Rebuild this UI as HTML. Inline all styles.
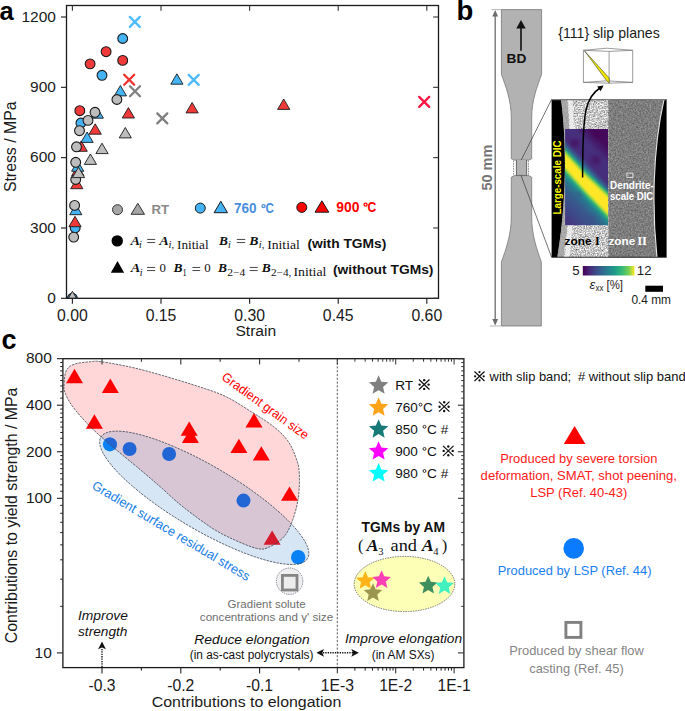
<!DOCTYPE html><html><head><meta charset="utf-8"><style>html,body{margin:0;padding:0;background:#fff;}svg{display:block;}</style></head><body><svg width="685" height="711" viewBox="0 0 685 711"><rect width="685" height="711" fill="#fff"/><text x="-0.60" y="19.80" font-family='"Liberation Sans", sans-serif' font-size="25.5" fill="#000" font-weight="bold">a</text>
<clipPath id="clipA"><rect x="66.5" y="5.5" width="372.0" height="292.8"/></clipPath>
<g clip-path="url(#clipA)">
<polygon points="77.80,165.30 83.90,175.70 71.70,175.70" fill="#f03a3a" stroke="#1a1a1a" stroke-width="0.9" stroke-linejoin="miter"/>
<polygon points="81.20,140.90 87.30,151.30 75.10,151.30" fill="#f03a3a" stroke="#1a1a1a" stroke-width="0.9" stroke-linejoin="miter"/>
<polygon points="76.80,178.30 82.90,188.70 70.70,188.70" fill="#f03a3a" stroke="#1a1a1a" stroke-width="0.9" stroke-linejoin="miter"/>
<polygon points="95.20,123.80 101.30,134.20 89.10,134.20" fill="#f03a3a" stroke="#1a1a1a" stroke-width="0.9" stroke-linejoin="miter"/>
<polygon points="128.40,107.60 134.50,118.00 122.30,118.00" fill="#f03a3a" stroke="#1a1a1a" stroke-width="0.9" stroke-linejoin="miter"/>
<polygon points="192.10,102.50 198.20,112.90 186.00,112.90" fill="#f03a3a" stroke="#1a1a1a" stroke-width="0.9" stroke-linejoin="miter"/>
<polygon points="283.70,99.00 289.80,109.40 277.60,109.40" fill="#f03a3a" stroke="#1a1a1a" stroke-width="0.9" stroke-linejoin="miter"/>
<circle cx="106.10" cy="51.70" r="4.9" fill="#f03a3a" stroke="#1a1a1a" stroke-width="1.1"/>
<circle cx="90.10" cy="63.90" r="4.9" fill="#f03a3a" stroke="#1a1a1a" stroke-width="1.1"/>
<circle cx="122.70" cy="60.40" r="4.9" fill="#f03a3a" stroke="#1a1a1a" stroke-width="1.1"/>
<circle cx="79.80" cy="110.70" r="4.9" fill="#f03a3a" stroke="#1a1a1a" stroke-width="1.1"/>
<polygon points="120.40,85.50 126.50,95.90 114.30,95.90" fill="#45b4f5" stroke="#1a1a1a" stroke-width="0.9" stroke-linejoin="miter"/>
<polygon points="176.90,73.80 183.00,84.20 170.80,84.20" fill="#45b4f5" stroke="#1a1a1a" stroke-width="0.9" stroke-linejoin="miter"/>
<polygon points="97.30,107.80 103.40,118.20 91.20,118.20" fill="#45b4f5" stroke="#1a1a1a" stroke-width="0.9" stroke-linejoin="miter"/>
<polygon points="87.10,132.00 93.20,142.40 81.00,142.40" fill="#45b4f5" stroke="#1a1a1a" stroke-width="0.9" stroke-linejoin="miter"/>
<polygon points="77.70,160.90 83.80,171.30 71.60,171.30" fill="#45b4f5" stroke="#1a1a1a" stroke-width="0.9" stroke-linejoin="miter"/>
<polygon points="75.80,204.30 81.90,214.70 69.70,214.70" fill="#45b4f5" stroke="#1a1a1a" stroke-width="0.9" stroke-linejoin="miter"/>
<circle cx="122.70" cy="38.50" r="4.9" fill="#45b4f5" stroke="#1a1a1a" stroke-width="1.1"/>
<circle cx="102.00" cy="75.30" r="4.9" fill="#45b4f5" stroke="#1a1a1a" stroke-width="1.1"/>
<circle cx="80.90" cy="123.00" r="4.9" fill="#45b4f5" stroke="#1a1a1a" stroke-width="1.1"/>
<circle cx="75.20" cy="227.90" r="4.9" fill="#45b4f5" stroke="#1a1a1a" stroke-width="1.1"/>
<circle cx="72.40" cy="298.30" r="4.9" fill="#45b4f5" stroke="#1a1a1a" stroke-width="1.1"/>
<polygon points="75.00,216.30 81.10,226.70 68.90,226.70" fill="#f03a3a" stroke="#1a1a1a" stroke-width="0.9" stroke-linejoin="miter"/>
<circle cx="116.90" cy="99.50" r="4.9" fill="#bdbdbd" stroke="#1a1a1a" stroke-width="1.1"/>
<circle cx="95.00" cy="112.30" r="4.9" fill="#bdbdbd" stroke="#1a1a1a" stroke-width="1.1"/>
<circle cx="88.00" cy="120.40" r="4.9" fill="#bdbdbd" stroke="#1a1a1a" stroke-width="1.1"/>
<circle cx="79.50" cy="130.70" r="4.9" fill="#bdbdbd" stroke="#1a1a1a" stroke-width="1.1"/>
<circle cx="76.50" cy="146.80" r="4.9" fill="#bdbdbd" stroke="#1a1a1a" stroke-width="1.1"/>
<circle cx="75.70" cy="162.30" r="4.9" fill="#bdbdbd" stroke="#1a1a1a" stroke-width="1.1"/>
<circle cx="75.70" cy="179.50" r="4.9" fill="#bdbdbd" stroke="#1a1a1a" stroke-width="1.1"/>
<circle cx="74.60" cy="205.40" r="4.9" fill="#bdbdbd" stroke="#1a1a1a" stroke-width="1.1"/>
<circle cx="73.70" cy="237.10" r="4.9" fill="#bdbdbd" stroke="#1a1a1a" stroke-width="1.1"/>
<polygon points="125.30,127.50 131.40,137.90 119.20,137.90" fill="#bdbdbd" stroke="#1a1a1a" stroke-width="0.9" stroke-linejoin="miter"/>
<polygon points="102.00,143.20 108.10,153.60 95.90,153.60" fill="#bdbdbd" stroke="#1a1a1a" stroke-width="0.9" stroke-linejoin="miter"/>
<polygon points="90.40,154.00 96.50,164.40 84.30,164.40" fill="#bdbdbd" stroke="#1a1a1a" stroke-width="0.9" stroke-linejoin="miter"/>
<polygon points="78.50,167.20 84.60,177.60 72.40,177.60" fill="#bdbdbd" stroke="#1a1a1a" stroke-width="0.9" stroke-linejoin="miter"/>
<polygon points="72.40,291.30 78.50,301.70 66.30,301.70" fill="#bdbdbd" stroke="#1a1a1a" stroke-width="0.9" stroke-linejoin="miter"/>
</g>
<path d="M129.80,16.90L139.80,26.90M139.80,16.90L129.80,26.90" stroke="#4dbbff" stroke-width="2.3" stroke-linecap="round" fill="none"/>
<path d="M188.70,74.90L198.70,84.90M198.70,74.90L188.70,84.90" stroke="#4dbbff" stroke-width="2.3" stroke-linecap="round" fill="none"/>
<path d="M124.20,74.70L134.20,84.70M134.20,74.70L124.20,84.70" stroke="#ee3030" stroke-width="2.3" stroke-linecap="round" fill="none"/>
<path d="M419.20,96.90L429.20,106.90M429.20,96.90L419.20,106.90" stroke="#ff1744" stroke-width="2.3" stroke-linecap="round" fill="none"/>
<path d="M130.00,86.30L140.00,96.30M140.00,86.30L130.00,96.30" stroke="#7f7f7f" stroke-width="2.3" stroke-linecap="round" fill="none"/>
<path d="M157.30,113.40L167.30,123.40M167.30,113.40L157.30,123.40" stroke="#7f7f7f" stroke-width="2.3" stroke-linecap="round" fill="none"/>
<rect x="66.5" y="5.5" width="372.0" height="292.8" fill="none" stroke="#1a1a1a" stroke-width="1.3"/>
<line x1="72.40" y1="298.30" x2="72.40" y2="303.80" stroke="#222" stroke-width="1.15"/>
<line x1="72.40" y1="5.50" x2="72.40" y2="10.70" stroke="#333" stroke-width="1.1"/>
<text x="72.40" y="320.60" font-family='"Liberation Sans", sans-serif' font-size="15.8" fill="#1a1a1a" text-anchor="middle">0.00</text>
<line x1="161.00" y1="298.30" x2="161.00" y2="303.80" stroke="#222" stroke-width="1.15"/>
<line x1="161.00" y1="5.50" x2="161.00" y2="10.70" stroke="#333" stroke-width="1.1"/>
<text x="161.00" y="320.60" font-family='"Liberation Sans", sans-serif' font-size="15.8" fill="#1a1a1a" text-anchor="middle">0.15</text>
<line x1="249.61" y1="298.30" x2="249.61" y2="303.80" stroke="#222" stroke-width="1.15"/>
<line x1="249.61" y1="5.50" x2="249.61" y2="10.70" stroke="#333" stroke-width="1.1"/>
<text x="249.61" y="320.60" font-family='"Liberation Sans", sans-serif' font-size="15.8" fill="#1a1a1a" text-anchor="middle">0.30</text>
<line x1="338.22" y1="298.30" x2="338.22" y2="303.80" stroke="#222" stroke-width="1.15"/>
<line x1="338.22" y1="5.50" x2="338.22" y2="10.70" stroke="#333" stroke-width="1.1"/>
<text x="338.22" y="320.60" font-family='"Liberation Sans", sans-serif' font-size="15.8" fill="#1a1a1a" text-anchor="middle">0.45</text>
<line x1="426.82" y1="298.30" x2="426.82" y2="303.80" stroke="#222" stroke-width="1.15"/>
<line x1="426.82" y1="5.50" x2="426.82" y2="10.70" stroke="#333" stroke-width="1.1"/>
<text x="426.82" y="320.60" font-family='"Liberation Sans", sans-serif' font-size="15.8" fill="#1a1a1a" text-anchor="middle">0.60</text>
<line x1="61.00" y1="298.30" x2="66.50" y2="298.30" stroke="#222" stroke-width="1.15"/>
<line x1="433.20" y1="298.30" x2="438.50" y2="298.30" stroke="#333" stroke-width="1.1"/>
<text x="55.90" y="303.10" font-family='"Liberation Sans", sans-serif' font-size="15.5" fill="#1a1a1a" text-anchor="end">0</text>
<line x1="61.00" y1="227.98" x2="66.50" y2="227.98" stroke="#222" stroke-width="1.15"/>
<line x1="433.20" y1="227.98" x2="438.50" y2="227.98" stroke="#333" stroke-width="1.1"/>
<text x="55.90" y="232.78" font-family='"Liberation Sans", sans-serif' font-size="15.5" fill="#1a1a1a" text-anchor="end">300</text>
<line x1="61.00" y1="157.65" x2="66.50" y2="157.65" stroke="#222" stroke-width="1.15"/>
<line x1="433.20" y1="157.65" x2="438.50" y2="157.65" stroke="#333" stroke-width="1.1"/>
<text x="55.90" y="162.45" font-family='"Liberation Sans", sans-serif' font-size="15.5" fill="#1a1a1a" text-anchor="end">600</text>
<line x1="61.00" y1="87.33" x2="66.50" y2="87.33" stroke="#222" stroke-width="1.15"/>
<line x1="433.20" y1="87.33" x2="438.50" y2="87.33" stroke="#333" stroke-width="1.1"/>
<text x="55.90" y="92.13" font-family='"Liberation Sans", sans-serif' font-size="15.5" fill="#1a1a1a" text-anchor="end">900</text>
<line x1="61.00" y1="17.00" x2="66.50" y2="17.00" stroke="#222" stroke-width="1.15"/>
<line x1="433.20" y1="17.00" x2="438.50" y2="17.00" stroke="#333" stroke-width="1.1"/>
<text x="55.90" y="21.80" font-family='"Liberation Sans", sans-serif' font-size="15.5" fill="#1a1a1a" text-anchor="end">1200</text>
<text x="255.80" y="336.20" font-family='"Liberation Sans", sans-serif' font-size="15.4" fill="#1a1a1a" text-anchor="middle" textLength="40.80" lengthAdjust="spacingAndGlyphs">Strain</text>
<text x="16.50" y="146.80" font-family='"Liberation Sans", sans-serif' font-size="16.0" fill="#1a1a1a" text-anchor="middle" textLength="90.60" lengthAdjust="spacingAndGlyphs" transform="rotate(-90 16.50 146.80)">Stress / MPa</text>
<circle cx="117.50" cy="209.70" r="5.0" fill="#a6a6a6" stroke="#333" stroke-width="1.0"/>
<polygon points="137.80,203.30 144.50,214.30 131.10,214.30" fill="#a6a6a6" stroke="#333" stroke-width="1.0" stroke-linejoin="miter"/>
<text x="151.60" y="214.40" font-family='"Liberation Sans", sans-serif' font-size="13.2" fill="#8a8a8a" font-weight="bold">RT</text>
<circle cx="200.30" cy="208.10" r="5.0" fill="#45b4f5" stroke="#1a1a1a" stroke-width="1.0"/>
<polygon points="220.80,201.30 227.50,212.70 214.10,212.70" fill="#45b4f5" stroke="#1a1a1a" stroke-width="1.0" stroke-linejoin="miter"/>
<text x="233.90" y="213.10" font-family='"Liberation Sans", sans-serif' font-size="13.8" fill="#4a8fdc" font-weight="bold" textLength="22.60" lengthAdjust="spacingAndGlyphs">760</text>
<circle cx="263.55" cy="206.1" r="1.55" fill="none" stroke="#4a8fdc" stroke-width="1.3"/>
<text x="265.60" y="213.10" font-family='"Liberation Sans", sans-serif' font-size="13.8" fill="#4a8fdc" font-weight="bold" textLength="8.40" lengthAdjust="spacingAndGlyphs">C</text>
<circle cx="301.80" cy="207.40" r="5.0" fill="#ff0000" stroke="#1a1a1a" stroke-width="1.0"/>
<polygon points="321.90,200.80 328.80,212.20 315.00,212.20" fill="#ff0000" stroke="#1a1a1a" stroke-width="1.0" stroke-linejoin="miter"/>
<text x="336.20" y="212.10" font-family='"Liberation Sans", sans-serif' font-size="13.8" fill="#ff0000" font-weight="bold" textLength="23.20" lengthAdjust="spacingAndGlyphs">900</text>
<circle cx="365.55" cy="204.6" r="1.55" fill="none" stroke="#ff0000" stroke-width="1.3"/>
<text x="367.60" y="212.10" font-family='"Liberation Sans", sans-serif' font-size="13.8" fill="#ff0000" font-weight="bold" textLength="8.80" lengthAdjust="spacingAndGlyphs">C</text>
<circle cx="117.25" cy="240.90" r="5.7" fill="#000" stroke="none" stroke-width="1"/>
<polygon points="117.50,261.10 124.15,272.80 110.85,272.80" fill="#000" stroke="none" stroke-width="1" stroke-linejoin="miter"/>
<text x="130.50" y="244.50" font-family='"Liberation Serif", serif' font-size="11.6" fill="#111" font-weight="bold" font-style="italic" textLength="9.60" lengthAdjust="spacingAndGlyphs">A</text>
<text x="139.00" y="247.90" font-family='"Liberation Serif", serif' font-size="10" fill="#111" font-style="italic">i</text>
<line x1="147.20" y1="239.45" x2="155.20" y2="239.45" stroke="#1a1a1a" stroke-width="0.8"/>
<line x1="147.20" y1="242.55" x2="155.20" y2="242.55" stroke="#1a1a1a" stroke-width="0.8"/>
<text x="159.30" y="244.50" font-family='"Liberation Serif", serif' font-size="11.6" fill="#111" font-weight="bold" font-style="italic" textLength="9.60" lengthAdjust="spacingAndGlyphs">A</text>
<text x="168.60" y="248.30" font-family='"Liberation Serif", serif' font-size="10" fill="#111" font-style="italic" textLength="5.60" lengthAdjust="spacingAndGlyphs">i,</text>
<text x="177.00" y="248.90" font-family='"Liberation Serif", serif' font-size="13" fill="#111" textLength="31.60" lengthAdjust="spacingAndGlyphs">Initial</text>
<text x="218.90" y="244.50" font-family='"Liberation Serif", serif' font-size="11.6" fill="#111" font-weight="bold" font-style="italic" textLength="8.90" lengthAdjust="spacingAndGlyphs">B</text>
<text x="228.00" y="247.90" font-family='"Liberation Serif", serif' font-size="10" fill="#111" font-style="italic">i</text>
<line x1="236.80" y1="239.45" x2="245.20" y2="239.45" stroke="#1a1a1a" stroke-width="0.8"/>
<line x1="236.80" y1="242.55" x2="245.20" y2="242.55" stroke="#1a1a1a" stroke-width="0.8"/>
<text x="249.20" y="244.50" font-family='"Liberation Serif", serif' font-size="11.6" fill="#111" font-weight="bold" font-style="italic" textLength="9.20" lengthAdjust="spacingAndGlyphs">B</text>
<text x="258.80" y="248.30" font-family='"Liberation Serif", serif' font-size="10" fill="#111" font-style="italic" textLength="5.60" lengthAdjust="spacingAndGlyphs">i,</text>
<text x="267.20" y="248.90" font-family='"Liberation Serif", serif' font-size="13" fill="#111" textLength="32.60" lengthAdjust="spacingAndGlyphs">Initial</text>
<text x="307.40" y="248.10" font-family='"Liberation Sans", sans-serif' font-size="13.2" fill="#111" font-weight="bold" textLength="79.00" lengthAdjust="spacingAndGlyphs">(with TGMs)</text>
<text x="130.70" y="272.30" font-family='"Liberation Serif", serif' font-size="11.6" fill="#111" font-weight="bold" font-style="italic" textLength="9.60" lengthAdjust="spacingAndGlyphs">A</text>
<text x="139.80" y="275.60" font-family='"Liberation Serif", serif' font-size="10" fill="#111" font-style="italic">i</text>
<line x1="147.00" y1="267.45" x2="155.20" y2="267.45" stroke="#1a1a1a" stroke-width="0.8"/>
<line x1="147.00" y1="270.55" x2="155.20" y2="270.55" stroke="#1a1a1a" stroke-width="0.8"/>
<text x="159.60" y="272.30" font-family='"Liberation Serif", serif' font-size="13.5" fill="#111" textLength="6.40" lengthAdjust="spacingAndGlyphs">0</text>
<text x="173.60" y="272.30" font-family='"Liberation Serif", serif' font-size="11.6" fill="#111" font-weight="bold" font-style="italic" textLength="9.00" lengthAdjust="spacingAndGlyphs">B</text>
<text x="182.60" y="275.80" font-family='"Liberation Serif", serif' font-size="9.8" fill="#111" textLength="4.20" lengthAdjust="spacingAndGlyphs">1</text>
<line x1="192.40" y1="267.45" x2="200.20" y2="267.45" stroke="#1a1a1a" stroke-width="0.8"/>
<line x1="192.40" y1="270.55" x2="200.20" y2="270.55" stroke="#1a1a1a" stroke-width="0.8"/>
<text x="204.20" y="272.30" font-family='"Liberation Serif", serif' font-size="13.5" fill="#111" textLength="6.40" lengthAdjust="spacingAndGlyphs">0</text>
<text x="218.00" y="272.30" font-family='"Liberation Serif", serif' font-size="11.6" fill="#111" font-weight="bold" font-style="italic" textLength="9.00" lengthAdjust="spacingAndGlyphs">B</text>
<text x="227.20" y="275.80" font-family='"Liberation Serif", serif' font-size="9.6" fill="#111" textLength="18.00" lengthAdjust="spacingAndGlyphs">2−4</text>
<line x1="249.70" y1="267.45" x2="257.70" y2="267.45" stroke="#1a1a1a" stroke-width="0.8"/>
<line x1="249.70" y1="270.55" x2="257.70" y2="270.55" stroke="#1a1a1a" stroke-width="0.8"/>
<text x="261.80" y="272.30" font-family='"Liberation Serif", serif' font-size="11.6" fill="#111" font-weight="bold" font-style="italic" textLength="9.00" lengthAdjust="spacingAndGlyphs">B</text>
<text x="271.00" y="275.80" font-family='"Liberation Serif", serif' font-size="9.6" fill="#111" textLength="20.40" lengthAdjust="spacingAndGlyphs">2−4,</text>
<text x="293.40" y="276.40" font-family='"Liberation Serif", serif' font-size="12.4" fill="#111" textLength="33.00" lengthAdjust="spacingAndGlyphs">Initial</text>
<text x="333.00" y="274.10" font-family='"Liberation Sans", sans-serif' font-size="13.2" fill="#111" font-weight="bold" textLength="100.40" lengthAdjust="spacingAndGlyphs">(without TGMs)</text>
<text x="456.60" y="20.10" font-family='"Liberation Sans", sans-serif' font-size="27.5" fill="#000" font-weight="bold">b</text>
<path d="M501.4,9.6 L541.6,9.6 L541.6,74.3 C537.5,86 531.6,100 531.7,118 L531.7,158.8 L528.8,160.1 L514.3,160.1 L511.3,158.8 L511.3,118 C511.3,100 505.5,86 501.4,74.3 Z" fill="#b2b2b2" stroke="#777" stroke-width="0.8"/>
<path d="M501.4,326 L541.3,326 L541.3,262.1 C537.2,250 531.6,235 531.7,217 L531.7,177.2 L528.8,175.6 L514.3,175.6 L511.3,177.2 L511.3,217 C511.3,235 505.6,250 501.4,262.1 Z" fill="#b2b2b2" stroke="#777" stroke-width="0.8"/>
<rect x="516.4" y="160.1" width="10.2" height="15.4" fill="#b2b2b2"/>
<line x1="516.40" y1="160.10" x2="516.40" y2="175.50" stroke="#4a4a4a" stroke-width="0.8"/>
<line x1="526.60" y1="160.10" x2="526.60" y2="175.50" stroke="#4a4a4a" stroke-width="0.8"/>
<line x1="516.40" y1="175.40" x2="526.60" y2="175.40" stroke="#4a4a4a" stroke-width="0.6"/>
<line x1="513.60" y1="160.60" x2="513.60" y2="175.00" stroke="#555" stroke-width="0.7" stroke-dasharray="1.6,0.9"/>
<line x1="528.40" y1="160.60" x2="528.40" y2="175.00" stroke="#555" stroke-width="0.7" stroke-dasharray="1.6,0.9"/>
<line x1="491.50" y1="9.60" x2="501.40" y2="9.60" stroke="#999" stroke-width="0.7"/>
<line x1="489.80" y1="326.00" x2="501.40" y2="326.00" stroke="#999" stroke-width="0.7"/>
<line x1="495.20" y1="13.50" x2="495.20" y2="322.00" stroke="#6c6c6c" stroke-width="1.3"/>
<path d="M495.2,9.9 L492.3,16.6 L498.1,16.6 Z" fill="#6c6c6c"/>
<path d="M495.2,325.6 L492.3,318.9 L498.1,318.9 Z" fill="#6c6c6c"/>
<text x="492.00" y="167.60" font-family='"Liberation Sans", sans-serif' font-size="13.8" fill="#767676" text-anchor="middle" font-weight="bold" textLength="45.60" lengthAdjust="spacingAndGlyphs" transform="rotate(-90 492.00 167.60)">50 mm</text>
<line x1="521.00" y1="26.00" x2="521.00" y2="50.80" stroke="#111" stroke-width="1.6"/>
<path d="M521.0,20.0 L516.3,28.6 L525.7,28.6 Z" fill="#111"/>
<text x="506.60" y="63.40" font-family='"Liberation Sans", sans-serif' font-size="13.2" fill="#111" font-weight="bold" textLength="19.80" lengthAdjust="spacingAndGlyphs">BD</text>
<line x1="521.20" y1="160.10" x2="551.60" y2="99.40" stroke="#3a3a3a" stroke-width="0.7"/>
<line x1="521.00" y1="175.40" x2="551.60" y2="257.20" stroke="#3a3a3a" stroke-width="0.7"/>
<defs><linearGradient id="dicg" gradientUnits="userSpaceOnUse" x1="558.2" y1="211.0" x2="615.8" y2="155.6"><stop offset="0" stop-color="#453882"/><stop offset="0.12" stop-color="#3e4c8a"/><stop offset="0.24" stop-color="#375b8d"/><stop offset="0.31" stop-color="#2c718e"/><stop offset="0.36" stop-color="#23888e"/><stop offset="0.42" stop-color="#21918c"/><stop offset="0.58" stop-color="#21918c"/><stop offset="0.61" stop-color="#277f8e"/><stop offset="0.645" stop-color="#3b528b"/><stop offset="0.69" stop-color="#472d7b"/><stop offset="0.85" stop-color="#46307e"/><stop offset="1" stop-color="#450a5c"/></linearGradient><filter id="blob" x="-50%" y="-50%" width="200%" height="200%"><feGaussianBlur stdDeviation="2.2"/></filter><filter id="bb1" x="-20%" y="-20%" width="140%" height="140%"><feGaussianBlur stdDeviation="1.6"/></filter><filter id="bb2" x="-20%" y="-20%" width="140%" height="140%"><feGaussianBlur stdDeviation="0.9"/></filter><clipPath id="clipDIC"><rect x="565.1" y="129.0" width="42.9" height="96.2"/></clipPath><linearGradient id="cbar" x1="0" y1="0" x2="1" y2="0"><stop offset="0" stop-color="#440154"/><stop offset="0.13" stop-color="#482878"/><stop offset="0.25" stop-color="#3e4989"/><stop offset="0.38" stop-color="#31688e"/><stop offset="0.5" stop-color="#26828e"/><stop offset="0.63" stop-color="#1f9e89"/><stop offset="0.75" stop-color="#35b779"/><stop offset="0.88" stop-color="#6ece58"/><stop offset="1" stop-color="#fde725"/></linearGradient><filter id="speckI" x="0" y="0" width="1" height="1" color-interpolation-filters="sRGB"><feTurbulence type="fractalNoise" baseFrequency="0.75" numOctaves="2" seed="5" result="n"/><feColorMatrix type="matrix" values="1.0 0 0 0 0.28  1.0 0 0 0 0.28  1.0 0 0 0 0.28  0 0 0 0 1" in="n" result="g"/><feComposite in="g" in2="SourceGraphic" operator="in"/></filter><filter id="speckII" x="0" y="0" width="1" height="1" color-interpolation-filters="sRGB"><feTurbulence type="fractalNoise" baseFrequency="0.6" numOctaves="2" seed="9" result="n"/><feColorMatrix type="matrix" values="0.36 0 0 0 0.31  0.36 0 0 0 0.31  0.36 0 0 0 0.31  0 0 0 0 1" in="n" result="g"/><feComposite in="g" in2="SourceGraphic" operator="in"/></filter></defs>
<rect x="551.6" y="99.2" width="115.0" height="158.2" fill="#000"/>
<path d="M561.0,99.6 C566.5,140 567.0,200 557.3,257.2 L608.8,257.2 L608.8,99.6 Z" fill="#c4c4c4" filter="url(#speckI)"/>
<path d="M608.8,99.6 L664.0,99.6 C652.5,150 652.0,210 657.0,257.2 L608.8,257.2 Z" fill="#838383" filter="url(#speckII)"/>
<path d="M561.0,99.6 C566.5,140 567.0,200 557.3,257.2 L563.5,257.2 C571.5,200 571.0,140 567.5,99.6 Z" fill="#9c9c9c" opacity="0.75"/>
<path d="M567.6,99.6 C571.5,140 572.0,200 564.5,257.2 L569.5,257.2 C576.0,200 576.0,140 572.3,99.6 Z" fill="#f2f2f2" opacity="0.8"/>
<path d="M664.0,99.6 C652.5,150 652.0,210 657.0,257.2" fill="none" stroke="#e6e6e6" stroke-width="1.1"/>
<line x1="551.6" y1="99.6" x2="666.6" y2="99.6" stroke="#7a7a7a" stroke-width="1.2"/>
<line x1="551.6" y1="257.2" x2="666.6" y2="257.2" stroke="#222" stroke-width="0.8"/>
<rect x="565.1" y="129.0" width="42.9" height="96.2" fill="url(#dicg)"/>
<g clip-path="url(#clipDIC)" filter="url(#blob)"><ellipse cx="575" cy="143" rx="5" ry="4" fill="#440154" opacity="0.55"/><ellipse cx="598" cy="134" rx="6" ry="4" fill="#440154" opacity="0.55"/><ellipse cx="596" cy="160" rx="5" ry="5" fill="#440154" opacity="0.45"/><ellipse cx="604" cy="172" rx="3" ry="4" fill="#46307e" opacity="0.5"/><ellipse cx="573" cy="212" rx="5" ry="4" fill="#3e4a89" opacity="0.6"/><ellipse cx="580" cy="194" rx="4" ry="3" fill="#3e4a89" opacity="0.5"/><ellipse cx="591" cy="219" rx="6" ry="3" fill="#3e4a89" opacity="0.5"/></g>
<g clip-path="url(#clipDIC)"><path d="M558,141.7 L565.6,150.0 L585,171.1 L607.4,192.1 L614,198.3 L614,226.0 L607.4,219.4 L585,196.1 L565.6,174.5 L558,166.1 Z" fill="#27ad81" filter="url(#bb1)"/><path d="M558,143.2 L565.6,151.5 L585,172.6 L607.4,193.6 L614,199.8 L614,223.0 L607.4,216.4 L585,193.1 L565.6,171.5 L558,163.1 Z" fill="#7ad151" filter="url(#bb2)"/><path d="M558,145.7 L565.6,154.0 L585,175.1 L607.4,196.1 L614,202.3 L614,220.5 L607.4,213.9 L585,190.6 L565.6,169.0 L558,160.6 Z" fill="#fde725" filter="url(#bb2)"/></g>
<text x="561.00" y="177.50" font-family='"Liberation Sans", sans-serif' font-size="10.2" fill="#ffff00" text-anchor="middle" font-weight="bold" textLength="74.00" lengthAdjust="spacingAndGlyphs" transform="rotate(-90 561.00 177.50)">Large-scale DIC</text>
<text x="610.00" y="189.00" font-family='"Liberation Sans", sans-serif' font-size="10.8" fill="#ffffff" font-weight="bold" textLength="43.80" lengthAdjust="spacingAndGlyphs">Dendrite-</text>
<text x="610.00" y="199.60" font-family='"Liberation Sans", sans-serif' font-size="10.8" fill="#ffffff" font-weight="bold" textLength="43.30" lengthAdjust="spacingAndGlyphs">scale DIC</text>
<rect x="626.9" y="173.1" width="6.0" height="4.3" fill="none" stroke="#eee" stroke-width="0.8"/>
<text x="564.50" y="245.00" font-family='"Liberation Sans", sans-serif' font-size="11.8" fill="#000" font-weight="bold" textLength="27.00" lengthAdjust="spacingAndGlyphs">zone</text>
<text x="595.00" y="245.00" font-family='"Liberation Serif", serif' font-size="12.0" fill="#000" font-weight="bold">I</text>
<text x="608.40" y="245.00" font-family='"Liberation Sans", sans-serif' font-size="11.8" fill="#fff" font-weight="bold" textLength="26.80" lengthAdjust="spacingAndGlyphs">zone</text>
<text x="637.20" y="245.00" font-family='"Liberation Serif", serif' font-size="12.0" fill="#fff" font-weight="bold" textLength="9.80" lengthAdjust="spacingAndGlyphs">II</text>
<path d="M582.6,177.4 C582.6,150 582.8,125 586.0,110 C588.5,99 593.5,92 600.0,88.0" fill="none" stroke="#000" stroke-width="1.5"/>
<path d="M603.6,85.6 L597.2,86.4 L600.6,91.2 Z" fill="#000"/>
<text x="558.20" y="37.60" font-family='"Liberation Sans", sans-serif' font-size="13.9" fill="#1a1a1a" textLength="101.60" lengthAdjust="spacingAndGlyphs">{111} slip planes</text>
<path d="M583.4,50.3 L606.9,48.2 L632.7,50.3 M583.4,50.3 L609.1,51.4 L632.7,50.3 M583.4,50.3 L583.4,82.4 M609.1,51.4 L609.1,83.2 M632.7,50.3 L632.7,82.4 M583.4,82.4 L609.1,83.2 L632.7,82.4 M583.4,82.4 L606.9,80.8 L632.7,82.4" fill="none" stroke="#707070" stroke-width="0.7"/>
<path d="M584.6,51.0 L609.2,78.0 L609.2,83.0 L606.4,80.4 Z" fill="#efe600" stroke="#333" stroke-width="0.55" stroke-linejoin="round"/>
<rect x="582.8" y="266.0" width="51.7" height="9.5" fill="url(#cbar)"/>
<text x="572.20" y="274.50" font-family='"Liberation Sans", sans-serif' font-size="13.2" fill="#1a1a1a">5</text>
<text x="636.80" y="274.50" font-family='"Liberation Sans", sans-serif' font-size="13.2" fill="#1a1a1a">12</text>
<text x="589.50" y="289.20" font-family='"Liberation Sans", sans-serif' font-size="13" fill="#1a1a1a" font-style="italic">ε</text>
<text x="595.60" y="291.20" font-family='"Liberation Sans", sans-serif' font-size="8.2" fill="#1a1a1a" textLength="8.00" lengthAdjust="spacingAndGlyphs">xx</text>
<text x="606.50" y="289.20" font-family='"Liberation Sans", sans-serif' font-size="13" fill="#1a1a1a" textLength="16.50" lengthAdjust="spacingAndGlyphs">[%]</text>
<rect x="645.3" y="285.7" width="17.7" height="6.1" fill="#000"/>
<text x="631.40" y="304.00" font-family='"Liberation Sans", sans-serif' font-size="12.8" fill="#1a1a1a" textLength="39.60" lengthAdjust="spacingAndGlyphs">0.4 mm</text>
<text x="1.40" y="348.70" font-family='"Liberation Sans", sans-serif' font-size="27" fill="#000" font-weight="bold">c</text>
<defs><clipPath id="clipRed"><path d="M64.00,386.00C64.17,382.37 64.38,374.63 66.10,371.00C67.82,367.37 70.20,365.75 74.30,364.20C78.40,362.65 86.27,362.12 90.70,361.70C95.13,361.28 94.10,360.77 100.90,361.70C107.70,362.63 121.28,365.02 131.50,367.30C141.72,369.58 150.78,372.12 162.20,375.40C173.62,378.68 189.32,383.43 200.00,387.00C210.68,390.57 217.53,392.53 226.30,396.80C235.07,401.07 244.72,407.63 252.60,412.60C260.48,417.57 267.77,421.93 273.60,426.60C279.43,431.27 283.95,435.63 287.60,440.60C291.25,445.57 293.57,451.17 295.50,456.40C297.43,461.63 298.75,464.98 299.20,472.00C299.65,479.02 299.45,490.07 298.20,498.50C296.95,506.93 294.25,516.03 291.70,522.60C289.15,529.17 286.92,533.72 282.90,537.90C278.88,542.08 271.98,545.95 267.60,547.70C263.22,549.45 262.08,549.68 256.60,548.40C251.12,547.12 242.07,543.35 234.70,540.00C227.33,536.65 221.23,534.00 212.40,528.30C203.57,522.60 190.42,512.75 181.70,505.80C172.98,498.85 167.60,493.12 160.10,486.60C152.60,480.08 144.48,473.23 136.70,466.70C128.92,460.17 121.18,454.12 113.40,447.40C105.62,440.68 96.85,433.28 90.00,426.40C83.15,419.52 76.45,411.70 72.30,406.10C68.15,400.50 66.48,396.15 65.10,392.80C63.72,389.45 63.83,389.63 64.00,386.00Z"/></clipPath><clipPath id="clipBlue"><path d="M307.55,558.49C307.08,559.29 306.48,560.02 305.75,560.66C305.02,561.31 304.15,561.87 303.17,562.36C302.18,562.84 301.07,563.24 299.84,563.56C298.61,563.87 297.25,564.11 295.78,564.26C294.31,564.41 292.72,564.47 291.03,564.45C289.33,564.44 287.52,564.33 285.61,564.14C283.70,563.95 281.68,563.68 279.58,563.33C277.47,562.97 275.26,562.53 272.97,562.01C270.68,561.49 268.29,560.89 265.84,560.20C263.38,559.52 260.84,558.76 258.24,557.93C255.63,557.09 252.95,556.17 250.23,555.19C247.50,554.20 244.70,553.14 241.86,552.01C239.03,550.89 236.14,549.69 233.22,548.43C230.30,547.17 227.33,545.84 224.35,544.45C221.37,543.07 218.35,541.62 215.33,540.13C212.31,538.63 209.26,537.07 206.22,535.48C203.19,533.88 200.13,532.23 197.10,530.54C194.07,528.85 191.04,527.12 188.04,525.35C185.04,523.59 182.04,521.78 179.10,519.96C176.15,518.13 173.22,516.27 170.34,514.39C167.47,512.51 164.63,510.61 161.85,508.70C159.07,506.79 156.34,504.86 153.68,502.92C151.02,500.99 148.42,499.05 145.89,497.11C143.37,495.17 140.92,493.23 138.55,491.30C136.19,489.37 133.90,487.45 131.71,485.54C129.52,483.64 127.42,481.74 125.42,479.88C123.42,478.01 121.52,476.16 119.73,474.35C117.94,472.53 116.25,470.74 114.68,469.00C113.11,467.25 111.65,465.53 110.32,463.86C108.98,462.20 107.76,460.56 106.67,458.99C105.57,457.41 104.60,455.88 103.76,454.41C102.92,452.94 102.20,451.52 101.62,450.16C101.03,448.81 100.58,447.50 100.25,446.27C99.93,445.04 99.74,443.88 99.68,442.78C99.63,441.68 99.70,440.66 99.91,439.70C100.12,438.75 100.46,437.87 100.93,437.07C101.40,436.27 102.00,435.54 102.73,434.90C103.46,434.25 104.33,433.69 105.31,433.20C106.30,432.72 107.41,432.32 108.64,432.00C109.87,431.69 111.23,431.45 112.70,431.30C114.17,431.15 115.76,431.09 117.45,431.11C119.15,431.12 120.96,431.23 122.87,431.42C124.78,431.61 126.80,431.88 128.90,432.23C131.01,432.59 133.22,433.03 135.51,433.55C137.80,434.07 140.19,434.67 142.64,435.36C145.10,436.04 147.64,436.80 150.24,437.63C152.85,438.47 155.53,439.39 158.25,440.37C160.98,441.36 163.78,442.42 166.62,443.55C169.45,444.67 172.34,445.87 175.26,447.13C178.18,448.39 181.15,449.72 184.13,451.11C187.11,452.49 190.13,453.94 193.15,455.43C196.17,456.93 199.22,458.49 202.26,460.08C205.29,461.68 208.35,463.33 211.38,465.02C214.41,466.71 217.44,468.44 220.44,470.21C223.44,471.97 226.44,473.78 229.38,475.60C232.33,477.43 235.26,479.29 238.14,481.17C241.01,483.05 243.85,484.95 246.63,486.86C249.41,488.77 252.14,490.70 254.80,492.64C257.46,494.57 260.06,496.51 262.59,498.45C265.11,500.39 267.56,502.33 269.93,504.26C272.29,506.19 274.58,508.11 276.77,510.02C278.96,511.92 281.06,513.82 283.06,515.68C285.06,517.55 286.96,519.40 288.75,521.21C290.54,523.03 292.23,524.82 293.80,526.56C295.37,528.31 296.83,530.03 298.16,531.70C299.50,533.36 300.72,535.00 301.81,536.57C302.91,538.15 303.88,539.68 304.72,541.15C305.56,542.62 306.28,544.04 306.86,545.40C307.45,546.75 307.90,548.06 308.23,549.29C308.55,550.52 308.74,551.68 308.80,552.78C308.85,553.88 308.78,554.90 308.57,555.86C308.36,556.81 308.02,557.69 307.55,558.49Z"/></clipPath></defs>
<path d="M64.00,386.00C64.17,382.37 64.38,374.63 66.10,371.00C67.82,367.37 70.20,365.75 74.30,364.20C78.40,362.65 86.27,362.12 90.70,361.70C95.13,361.28 94.10,360.77 100.90,361.70C107.70,362.63 121.28,365.02 131.50,367.30C141.72,369.58 150.78,372.12 162.20,375.40C173.62,378.68 189.32,383.43 200.00,387.00C210.68,390.57 217.53,392.53 226.30,396.80C235.07,401.07 244.72,407.63 252.60,412.60C260.48,417.57 267.77,421.93 273.60,426.60C279.43,431.27 283.95,435.63 287.60,440.60C291.25,445.57 293.57,451.17 295.50,456.40C297.43,461.63 298.75,464.98 299.20,472.00C299.65,479.02 299.45,490.07 298.20,498.50C296.95,506.93 294.25,516.03 291.70,522.60C289.15,529.17 286.92,533.72 282.90,537.90C278.88,542.08 271.98,545.95 267.60,547.70C263.22,549.45 262.08,549.68 256.60,548.40C251.12,547.12 242.07,543.35 234.70,540.00C227.33,536.65 221.23,534.00 212.40,528.30C203.57,522.60 190.42,512.75 181.70,505.80C172.98,498.85 167.60,493.12 160.10,486.60C152.60,480.08 144.48,473.23 136.70,466.70C128.92,460.17 121.18,454.12 113.40,447.40C105.62,440.68 96.85,433.28 90.00,426.40C83.15,419.52 76.45,411.70 72.30,406.10C68.15,400.50 66.48,396.15 65.10,392.80C63.72,389.45 63.83,389.63 64.00,386.00Z" fill="#ffd7d8"/>
<path d="M307.55,558.49C307.08,559.29 306.48,560.02 305.75,560.66C305.02,561.31 304.15,561.87 303.17,562.36C302.18,562.84 301.07,563.24 299.84,563.56C298.61,563.87 297.25,564.11 295.78,564.26C294.31,564.41 292.72,564.47 291.03,564.45C289.33,564.44 287.52,564.33 285.61,564.14C283.70,563.95 281.68,563.68 279.58,563.33C277.47,562.97 275.26,562.53 272.97,562.01C270.68,561.49 268.29,560.89 265.84,560.20C263.38,559.52 260.84,558.76 258.24,557.93C255.63,557.09 252.95,556.17 250.23,555.19C247.50,554.20 244.70,553.14 241.86,552.01C239.03,550.89 236.14,549.69 233.22,548.43C230.30,547.17 227.33,545.84 224.35,544.45C221.37,543.07 218.35,541.62 215.33,540.13C212.31,538.63 209.26,537.07 206.22,535.48C203.19,533.88 200.13,532.23 197.10,530.54C194.07,528.85 191.04,527.12 188.04,525.35C185.04,523.59 182.04,521.78 179.10,519.96C176.15,518.13 173.22,516.27 170.34,514.39C167.47,512.51 164.63,510.61 161.85,508.70C159.07,506.79 156.34,504.86 153.68,502.92C151.02,500.99 148.42,499.05 145.89,497.11C143.37,495.17 140.92,493.23 138.55,491.30C136.19,489.37 133.90,487.45 131.71,485.54C129.52,483.64 127.42,481.74 125.42,479.88C123.42,478.01 121.52,476.16 119.73,474.35C117.94,472.53 116.25,470.74 114.68,469.00C113.11,467.25 111.65,465.53 110.32,463.86C108.98,462.20 107.76,460.56 106.67,458.99C105.57,457.41 104.60,455.88 103.76,454.41C102.92,452.94 102.20,451.52 101.62,450.16C101.03,448.81 100.58,447.50 100.25,446.27C99.93,445.04 99.74,443.88 99.68,442.78C99.63,441.68 99.70,440.66 99.91,439.70C100.12,438.75 100.46,437.87 100.93,437.07C101.40,436.27 102.00,435.54 102.73,434.90C103.46,434.25 104.33,433.69 105.31,433.20C106.30,432.72 107.41,432.32 108.64,432.00C109.87,431.69 111.23,431.45 112.70,431.30C114.17,431.15 115.76,431.09 117.45,431.11C119.15,431.12 120.96,431.23 122.87,431.42C124.78,431.61 126.80,431.88 128.90,432.23C131.01,432.59 133.22,433.03 135.51,433.55C137.80,434.07 140.19,434.67 142.64,435.36C145.10,436.04 147.64,436.80 150.24,437.63C152.85,438.47 155.53,439.39 158.25,440.37C160.98,441.36 163.78,442.42 166.62,443.55C169.45,444.67 172.34,445.87 175.26,447.13C178.18,448.39 181.15,449.72 184.13,451.11C187.11,452.49 190.13,453.94 193.15,455.43C196.17,456.93 199.22,458.49 202.26,460.08C205.29,461.68 208.35,463.33 211.38,465.02C214.41,466.71 217.44,468.44 220.44,470.21C223.44,471.97 226.44,473.78 229.38,475.60C232.33,477.43 235.26,479.29 238.14,481.17C241.01,483.05 243.85,484.95 246.63,486.86C249.41,488.77 252.14,490.70 254.80,492.64C257.46,494.57 260.06,496.51 262.59,498.45C265.11,500.39 267.56,502.33 269.93,504.26C272.29,506.19 274.58,508.11 276.77,510.02C278.96,511.92 281.06,513.82 283.06,515.68C285.06,517.55 286.96,519.40 288.75,521.21C290.54,523.03 292.23,524.82 293.80,526.56C295.37,528.31 296.83,530.03 298.16,531.70C299.50,533.36 300.72,535.00 301.81,536.57C302.91,538.15 303.88,539.68 304.72,541.15C305.56,542.62 306.28,544.04 306.86,545.40C307.45,546.75 307.90,548.06 308.23,549.29C308.55,550.52 308.74,551.68 308.80,552.78C308.85,553.88 308.78,554.90 308.57,555.86C308.36,556.81 308.02,557.69 307.55,558.49Z" fill="#d6e6f5"/>
<path d="M307.55,558.49C307.08,559.29 306.48,560.02 305.75,560.66C305.02,561.31 304.15,561.87 303.17,562.36C302.18,562.84 301.07,563.24 299.84,563.56C298.61,563.87 297.25,564.11 295.78,564.26C294.31,564.41 292.72,564.47 291.03,564.45C289.33,564.44 287.52,564.33 285.61,564.14C283.70,563.95 281.68,563.68 279.58,563.33C277.47,562.97 275.26,562.53 272.97,562.01C270.68,561.49 268.29,560.89 265.84,560.20C263.38,559.52 260.84,558.76 258.24,557.93C255.63,557.09 252.95,556.17 250.23,555.19C247.50,554.20 244.70,553.14 241.86,552.01C239.03,550.89 236.14,549.69 233.22,548.43C230.30,547.17 227.33,545.84 224.35,544.45C221.37,543.07 218.35,541.62 215.33,540.13C212.31,538.63 209.26,537.07 206.22,535.48C203.19,533.88 200.13,532.23 197.10,530.54C194.07,528.85 191.04,527.12 188.04,525.35C185.04,523.59 182.04,521.78 179.10,519.96C176.15,518.13 173.22,516.27 170.34,514.39C167.47,512.51 164.63,510.61 161.85,508.70C159.07,506.79 156.34,504.86 153.68,502.92C151.02,500.99 148.42,499.05 145.89,497.11C143.37,495.17 140.92,493.23 138.55,491.30C136.19,489.37 133.90,487.45 131.71,485.54C129.52,483.64 127.42,481.74 125.42,479.88C123.42,478.01 121.52,476.16 119.73,474.35C117.94,472.53 116.25,470.74 114.68,469.00C113.11,467.25 111.65,465.53 110.32,463.86C108.98,462.20 107.76,460.56 106.67,458.99C105.57,457.41 104.60,455.88 103.76,454.41C102.92,452.94 102.20,451.52 101.62,450.16C101.03,448.81 100.58,447.50 100.25,446.27C99.93,445.04 99.74,443.88 99.68,442.78C99.63,441.68 99.70,440.66 99.91,439.70C100.12,438.75 100.46,437.87 100.93,437.07C101.40,436.27 102.00,435.54 102.73,434.90C103.46,434.25 104.33,433.69 105.31,433.20C106.30,432.72 107.41,432.32 108.64,432.00C109.87,431.69 111.23,431.45 112.70,431.30C114.17,431.15 115.76,431.09 117.45,431.11C119.15,431.12 120.96,431.23 122.87,431.42C124.78,431.61 126.80,431.88 128.90,432.23C131.01,432.59 133.22,433.03 135.51,433.55C137.80,434.07 140.19,434.67 142.64,435.36C145.10,436.04 147.64,436.80 150.24,437.63C152.85,438.47 155.53,439.39 158.25,440.37C160.98,441.36 163.78,442.42 166.62,443.55C169.45,444.67 172.34,445.87 175.26,447.13C178.18,448.39 181.15,449.72 184.13,451.11C187.11,452.49 190.13,453.94 193.15,455.43C196.17,456.93 199.22,458.49 202.26,460.08C205.29,461.68 208.35,463.33 211.38,465.02C214.41,466.71 217.44,468.44 220.44,470.21C223.44,471.97 226.44,473.78 229.38,475.60C232.33,477.43 235.26,479.29 238.14,481.17C241.01,483.05 243.85,484.95 246.63,486.86C249.41,488.77 252.14,490.70 254.80,492.64C257.46,494.57 260.06,496.51 262.59,498.45C265.11,500.39 267.56,502.33 269.93,504.26C272.29,506.19 274.58,508.11 276.77,510.02C278.96,511.92 281.06,513.82 283.06,515.68C285.06,517.55 286.96,519.40 288.75,521.21C290.54,523.03 292.23,524.82 293.80,526.56C295.37,528.31 296.83,530.03 298.16,531.70C299.50,533.36 300.72,535.00 301.81,536.57C302.91,538.15 303.88,539.68 304.72,541.15C305.56,542.62 306.28,544.04 306.86,545.40C307.45,546.75 307.90,548.06 308.23,549.29C308.55,550.52 308.74,551.68 308.80,552.78C308.85,553.88 308.78,554.90 308.57,555.86C308.36,556.81 308.02,557.69 307.55,558.49Z" fill="#d8c6d4" clip-path="url(#clipRed)"/>
<circle cx="129.60" cy="449.00" r="7.0" fill="#2266d6" stroke="none" stroke-width="1"/>
<circle cx="169.10" cy="454.00" r="7.0" fill="#2266d6" stroke="none" stroke-width="1"/>
<circle cx="243.50" cy="500.60" r="7.0" fill="#2266d6" stroke="none" stroke-width="1"/>
<circle cx="109.90" cy="444.40" r="7.0" fill="#0a80f5" stroke="none" stroke-width="1"/>
<g clip-path="url(#clipRed)">
<circle cx="109.90" cy="444.40" r="7.0" fill="#2266d6" stroke="none" stroke-width="1"/>
</g>
<circle cx="298.20" cy="557.20" r="7.2" fill="#0a80f5" stroke="none" stroke-width="1"/>
<polygon points="74.50,368.80 83.00,383.20 66.00,383.20" fill="#ff0000" stroke="none" stroke-width="1" stroke-linejoin="miter"/>
<polygon points="110.30,378.50 118.80,392.90 101.80,392.90" fill="#ff0000" stroke="none" stroke-width="1" stroke-linejoin="miter"/>
<polygon points="94.40,414.30 102.90,428.70 85.90,428.70" fill="#ff0000" stroke="none" stroke-width="1" stroke-linejoin="miter"/>
<polygon points="189.20,421.40 197.70,435.80 180.70,435.80" fill="#ff0000" stroke="none" stroke-width="1" stroke-linejoin="miter"/>
<polygon points="190.40,428.60 198.90,443.00 181.90,443.00" fill="#ff0000" stroke="none" stroke-width="1" stroke-linejoin="miter"/>
<polygon points="254.00,413.00 262.50,427.40 245.50,427.40" fill="#ff0000" stroke="none" stroke-width="1" stroke-linejoin="miter"/>
<polygon points="238.90,438.70 247.40,453.10 230.40,453.10" fill="#ff0000" stroke="none" stroke-width="1" stroke-linejoin="miter"/>
<polygon points="261.30,446.20 269.80,460.60 252.80,460.60" fill="#ff0000" stroke="none" stroke-width="1" stroke-linejoin="miter"/>
<polygon points="289.50,486.40 298.00,500.80 281.00,500.80" fill="#ff0000" stroke="none" stroke-width="1" stroke-linejoin="miter"/>
<polygon points="272.10,530.40 280.60,544.80 263.60,544.80" fill="#d41a2c" stroke="none" stroke-width="1" stroke-linejoin="miter"/>
<path d="M64.00,386.00C64.17,382.37 64.38,374.63 66.10,371.00C67.82,367.37 70.20,365.75 74.30,364.20C78.40,362.65 86.27,362.12 90.70,361.70C95.13,361.28 94.10,360.77 100.90,361.70C107.70,362.63 121.28,365.02 131.50,367.30C141.72,369.58 150.78,372.12 162.20,375.40C173.62,378.68 189.32,383.43 200.00,387.00C210.68,390.57 217.53,392.53 226.30,396.80C235.07,401.07 244.72,407.63 252.60,412.60C260.48,417.57 267.77,421.93 273.60,426.60C279.43,431.27 283.95,435.63 287.60,440.60C291.25,445.57 293.57,451.17 295.50,456.40C297.43,461.63 298.75,464.98 299.20,472.00C299.65,479.02 299.45,490.07 298.20,498.50C296.95,506.93 294.25,516.03 291.70,522.60C289.15,529.17 286.92,533.72 282.90,537.90C278.88,542.08 271.98,545.95 267.60,547.70C263.22,549.45 262.08,549.68 256.60,548.40C251.12,547.12 242.07,543.35 234.70,540.00C227.33,536.65 221.23,534.00 212.40,528.30C203.57,522.60 190.42,512.75 181.70,505.80C172.98,498.85 167.60,493.12 160.10,486.60C152.60,480.08 144.48,473.23 136.70,466.70C128.92,460.17 121.18,454.12 113.40,447.40C105.62,440.68 96.85,433.28 90.00,426.40C83.15,419.52 76.45,411.70 72.30,406.10C68.15,400.50 66.48,396.15 65.10,392.80C63.72,389.45 63.83,389.63 64.00,386.00Z" fill="none" stroke="#3d4450" stroke-width="0.8" stroke-dasharray="2.4,1"/>
<path d="M307.55,558.49C307.08,559.29 306.48,560.02 305.75,560.66C305.02,561.31 304.15,561.87 303.17,562.36C302.18,562.84 301.07,563.24 299.84,563.56C298.61,563.87 297.25,564.11 295.78,564.26C294.31,564.41 292.72,564.47 291.03,564.45C289.33,564.44 287.52,564.33 285.61,564.14C283.70,563.95 281.68,563.68 279.58,563.33C277.47,562.97 275.26,562.53 272.97,562.01C270.68,561.49 268.29,560.89 265.84,560.20C263.38,559.52 260.84,558.76 258.24,557.93C255.63,557.09 252.95,556.17 250.23,555.19C247.50,554.20 244.70,553.14 241.86,552.01C239.03,550.89 236.14,549.69 233.22,548.43C230.30,547.17 227.33,545.84 224.35,544.45C221.37,543.07 218.35,541.62 215.33,540.13C212.31,538.63 209.26,537.07 206.22,535.48C203.19,533.88 200.13,532.23 197.10,530.54C194.07,528.85 191.04,527.12 188.04,525.35C185.04,523.59 182.04,521.78 179.10,519.96C176.15,518.13 173.22,516.27 170.34,514.39C167.47,512.51 164.63,510.61 161.85,508.70C159.07,506.79 156.34,504.86 153.68,502.92C151.02,500.99 148.42,499.05 145.89,497.11C143.37,495.17 140.92,493.23 138.55,491.30C136.19,489.37 133.90,487.45 131.71,485.54C129.52,483.64 127.42,481.74 125.42,479.88C123.42,478.01 121.52,476.16 119.73,474.35C117.94,472.53 116.25,470.74 114.68,469.00C113.11,467.25 111.65,465.53 110.32,463.86C108.98,462.20 107.76,460.56 106.67,458.99C105.57,457.41 104.60,455.88 103.76,454.41C102.92,452.94 102.20,451.52 101.62,450.16C101.03,448.81 100.58,447.50 100.25,446.27C99.93,445.04 99.74,443.88 99.68,442.78C99.63,441.68 99.70,440.66 99.91,439.70C100.12,438.75 100.46,437.87 100.93,437.07C101.40,436.27 102.00,435.54 102.73,434.90C103.46,434.25 104.33,433.69 105.31,433.20C106.30,432.72 107.41,432.32 108.64,432.00C109.87,431.69 111.23,431.45 112.70,431.30C114.17,431.15 115.76,431.09 117.45,431.11C119.15,431.12 120.96,431.23 122.87,431.42C124.78,431.61 126.80,431.88 128.90,432.23C131.01,432.59 133.22,433.03 135.51,433.55C137.80,434.07 140.19,434.67 142.64,435.36C145.10,436.04 147.64,436.80 150.24,437.63C152.85,438.47 155.53,439.39 158.25,440.37C160.98,441.36 163.78,442.42 166.62,443.55C169.45,444.67 172.34,445.87 175.26,447.13C178.18,448.39 181.15,449.72 184.13,451.11C187.11,452.49 190.13,453.94 193.15,455.43C196.17,456.93 199.22,458.49 202.26,460.08C205.29,461.68 208.35,463.33 211.38,465.02C214.41,466.71 217.44,468.44 220.44,470.21C223.44,471.97 226.44,473.78 229.38,475.60C232.33,477.43 235.26,479.29 238.14,481.17C241.01,483.05 243.85,484.95 246.63,486.86C249.41,488.77 252.14,490.70 254.80,492.64C257.46,494.57 260.06,496.51 262.59,498.45C265.11,500.39 267.56,502.33 269.93,504.26C272.29,506.19 274.58,508.11 276.77,510.02C278.96,511.92 281.06,513.82 283.06,515.68C285.06,517.55 286.96,519.40 288.75,521.21C290.54,523.03 292.23,524.82 293.80,526.56C295.37,528.31 296.83,530.03 298.16,531.70C299.50,533.36 300.72,535.00 301.81,536.57C302.91,538.15 303.88,539.68 304.72,541.15C305.56,542.62 306.28,544.04 306.86,545.40C307.45,546.75 307.90,548.06 308.23,549.29C308.55,550.52 308.74,551.68 308.80,552.78C308.85,553.88 308.78,554.90 308.57,555.86C308.36,556.81 308.02,557.69 307.55,558.49Z" fill="none" stroke="#3d4450" stroke-width="0.8" stroke-dasharray="2.4,1"/>
<text x="220.80" y="378.80" font-family='"Liberation Sans", sans-serif' font-size="13.0" fill="#ff0000" textLength="104.00" lengthAdjust="spacingAndGlyphs" transform="rotate(36.0 220.80 378.80)">Gradient grain size</text>
<text x="91.00" y="488.00" font-family='"Liberation Sans", sans-serif' font-size="13.0" fill="#1a80e6" textLength="181.50" lengthAdjust="spacingAndGlyphs" transform="rotate(30.9 91.00 488.00)">Gradient surface residual stress</text>
<circle cx="289.60" cy="581.20" r="13.2" fill="#efefef" stroke="#5a6677" stroke-width="0.75" stroke-dasharray="1.3,1"/>
<rect x="282.4" y="575.4" width="14.6" height="14.6" fill="#ececec" stroke="#858585" stroke-width="2.8"/>
<text x="266.60" y="607.50" font-family='"Liberation Sans", sans-serif' font-size="11.6" fill="#6e6e6e" text-anchor="middle" textLength="78.00" lengthAdjust="spacingAndGlyphs">Gradient solute</text>
<text x="266.50" y="620.80" font-family='"Liberation Sans", sans-serif' font-size="11.6" fill="#6e6e6e" text-anchor="middle" textLength="133.30" lengthAdjust="spacingAndGlyphs">concentrations and γ' size</text>
<ellipse cx="404.5" cy="584.0" rx="50.3" ry="27.6" fill="#feffb6" stroke="#444" stroke-width="0.7" stroke-dasharray="1.5,1"/>
<polygon points="428.20,575.70 430.85,581.86 437.52,582.47 432.48,586.89 433.96,593.43 428.20,590.00 422.44,593.43 423.92,586.89 418.88,582.47 425.55,581.86" fill="#3e8e5e"/>
<polygon points="444.50,576.20 447.15,582.36 453.82,582.97 448.78,587.39 450.26,593.93 444.50,590.50 438.74,593.93 440.22,587.39 435.18,582.97 441.85,582.36" fill="#42f0c0"/>
<polygon points="365.30,571.00 367.95,577.16 374.62,577.77 369.58,582.19 371.06,588.73 365.30,585.30 359.54,588.73 361.02,582.19 355.98,577.77 362.65,577.16" fill="#ffb319"/>
<polygon points="381.60,570.20 384.25,576.36 390.92,576.97 385.88,581.39 387.36,587.93 381.60,584.50 375.84,587.93 377.32,581.39 372.28,576.97 378.95,576.36" fill="#ff40b5"/>
<polygon points="373.00,583.20 375.65,589.36 382.32,589.97 377.28,594.39 378.76,600.93 373.00,597.50 367.24,600.93 368.72,594.39 363.68,589.97 370.35,589.36" fill="#9a9650"/>
<text x="403.30" y="531.90" font-family='"Liberation Sans", sans-serif' font-size="14" fill="#111" text-anchor="middle" font-weight="bold" textLength="83.40" lengthAdjust="spacingAndGlyphs">TGMs by AM</text>
<text x="358.00" y="550.80" font-family='"Liberation Serif", serif' font-size="16.5" fill="#111">(</text>
<text x="366.60" y="550.80" font-family='"Liberation Serif", serif' font-size="17.0" fill="#111" font-weight="bold" font-style="italic" textLength="12.00" lengthAdjust="spacingAndGlyphs">A</text>
<text x="378.20" y="554.80" font-family='"Liberation Serif", serif' font-size="10.5" fill="#111">3</text>
<text x="390.50" y="550.80" font-family='"Liberation Serif", serif' font-size="17.0" fill="#111" textLength="26.50" lengthAdjust="spacingAndGlyphs">and</text>
<text x="421.80" y="550.80" font-family='"Liberation Serif", serif' font-size="17.0" fill="#111" font-weight="bold" font-style="italic" textLength="12.00" lengthAdjust="spacingAndGlyphs">A</text>
<text x="433.30" y="554.80" font-family='"Liberation Serif", serif' font-size="10.5" fill="#111">4</text>
<text x="441.80" y="550.80" font-family='"Liberation Serif", serif' font-size="16.5" fill="#111">)</text>
<polygon points="378.60,375.30 381.36,381.70 388.30,382.35 383.07,386.95 384.60,393.75 378.60,390.20 372.60,393.75 374.13,386.95 368.90,382.35 375.84,381.70" fill="#808080"/>
<polygon points="378.60,397.25 381.36,403.65 388.30,404.30 383.07,408.90 384.60,415.70 378.60,412.15 372.60,415.70 374.13,408.90 368.90,404.30 375.84,403.65" fill="#ffa31a"/>
<polygon points="378.60,419.20 381.36,425.60 388.30,426.25 383.07,430.85 384.60,437.65 378.60,434.10 372.60,437.65 374.13,430.85 368.90,426.25 375.84,425.60" fill="#177a78"/>
<polygon points="378.60,441.15 381.36,447.55 388.30,448.20 383.07,452.80 384.60,459.60 378.60,456.05 372.60,459.60 374.13,452.80 368.90,448.20 375.84,447.55" fill="#ff00ff"/>
<polygon points="378.60,463.10 381.36,469.50 388.30,470.15 383.07,474.75 384.60,481.55 378.60,478.00 372.60,481.55 374.13,474.75 368.90,470.15 375.84,469.50" fill="#00ffff"/>
<text x="395.30" y="389.60" font-family='"Liberation Sans", sans-serif' font-size="13.6" fill="#111">RT</text>
<path d="M418.95,379.56L429.45,389.54M429.45,379.56L418.95,389.54" stroke="#111" stroke-width="1.26" fill="none"/>
<circle cx="424.20" cy="380.19" r="1.18" fill="#111"/>
<circle cx="424.20" cy="388.91" r="1.18" fill="#111"/>
<circle cx="419.58" cy="384.60" r="1.18" fill="#111"/>
<circle cx="428.61" cy="384.60" r="1.18" fill="#111"/>
<text x="395.30" y="411.70" font-family='"Liberation Sans", sans-serif' font-size="13.6" fill="#111" textLength="22.60" lengthAdjust="spacingAndGlyphs">760</text>
<circle cx="420.50" cy="404.70" r="1.45" fill="none" stroke="#111" stroke-width="0.85"/>
<text x="422.90" y="411.70" font-family='"Liberation Sans", sans-serif' font-size="13.6" fill="#111">C</text>
<path d="M438.95,401.66L449.45,411.64M449.45,401.66L438.95,411.64" stroke="#111" stroke-width="1.26" fill="none"/>
<circle cx="444.20" cy="402.29" r="1.18" fill="#111"/>
<circle cx="444.20" cy="411.01" r="1.18" fill="#111"/>
<circle cx="439.58" cy="406.70" r="1.18" fill="#111"/>
<circle cx="448.61" cy="406.70" r="1.18" fill="#111"/>
<text x="395.30" y="433.80" font-family='"Liberation Sans", sans-serif' font-size="13.6" fill="#111" textLength="22.60" lengthAdjust="spacingAndGlyphs">850</text>
<circle cx="424.50" cy="426.80" r="1.45" fill="none" stroke="#111" stroke-width="0.85"/>
<text x="427.00" y="433.80" font-family='"Liberation Sans", sans-serif' font-size="13.6" fill="#111">C</text>
<text x="440.80" y="433.80" font-family='"Liberation Sans", sans-serif' font-size="13.6" fill="#111">#</text>
<text x="395.30" y="455.90" font-family='"Liberation Sans", sans-serif' font-size="13.6" fill="#111" textLength="22.60" lengthAdjust="spacingAndGlyphs">900</text>
<circle cx="424.50" cy="448.90" r="1.45" fill="none" stroke="#111" stroke-width="0.85"/>
<text x="427.00" y="455.90" font-family='"Liberation Sans", sans-serif' font-size="13.6" fill="#111">C</text>
<path d="M443.05,445.86L453.55,455.84M453.55,445.86L443.05,455.84" stroke="#111" stroke-width="1.26" fill="none"/>
<circle cx="448.30" cy="446.49" r="1.18" fill="#111"/>
<circle cx="448.30" cy="455.21" r="1.18" fill="#111"/>
<circle cx="443.68" cy="450.90" r="1.18" fill="#111"/>
<circle cx="452.71" cy="450.90" r="1.18" fill="#111"/>
<text x="395.30" y="478.00" font-family='"Liberation Sans", sans-serif' font-size="13.6" fill="#111" textLength="22.60" lengthAdjust="spacingAndGlyphs">980</text>
<circle cx="424.50" cy="471.00" r="1.45" fill="none" stroke="#111" stroke-width="0.85"/>
<text x="427.00" y="478.00" font-family='"Liberation Sans", sans-serif' font-size="13.6" fill="#111">C</text>
<text x="440.80" y="478.00" font-family='"Liberation Sans", sans-serif' font-size="13.6" fill="#111">#</text>
<line x1="337.30" y1="358.70" x2="337.30" y2="667.60" stroke="#333" stroke-width="0.8" stroke-dasharray="2.2,1.6"/>
<rect x="62.9" y="358.7" width="401.0" height="308.90000000000003" fill="none" stroke="#1a1a1a" stroke-width="1.3"/>
<line x1="102.00" y1="667.60" x2="102.00" y2="673.40" stroke="#222" stroke-width="1.1"/>
<line x1="102.00" y1="358.70" x2="102.00" y2="364.50" stroke="#333" stroke-width="1.1"/>
<line x1="141.40" y1="667.60" x2="141.40" y2="670.60" stroke="#222" stroke-width="1.1"/>
<line x1="141.40" y1="358.70" x2="141.40" y2="361.70" stroke="#333" stroke-width="1.1"/>
<line x1="180.80" y1="667.60" x2="180.80" y2="673.40" stroke="#222" stroke-width="1.1"/>
<line x1="180.80" y1="358.70" x2="180.80" y2="364.50" stroke="#333" stroke-width="1.1"/>
<line x1="220.20" y1="667.60" x2="220.20" y2="670.60" stroke="#222" stroke-width="1.1"/>
<line x1="220.20" y1="358.70" x2="220.20" y2="361.70" stroke="#333" stroke-width="1.1"/>
<line x1="259.60" y1="667.60" x2="259.60" y2="673.40" stroke="#222" stroke-width="1.1"/>
<line x1="259.60" y1="358.70" x2="259.60" y2="364.50" stroke="#333" stroke-width="1.1"/>
<line x1="299.00" y1="667.60" x2="299.00" y2="670.60" stroke="#222" stroke-width="1.1"/>
<line x1="299.00" y1="358.70" x2="299.00" y2="361.70" stroke="#333" stroke-width="1.1"/>
<text x="102.00" y="690.90" font-family='"Liberation Sans", sans-serif' font-size="15.7" fill="#1a1a1a" text-anchor="middle">-0.3</text>
<text x="180.80" y="690.90" font-family='"Liberation Sans", sans-serif' font-size="15.7" fill="#1a1a1a" text-anchor="middle">-0.2</text>
<text x="259.60" y="690.90" font-family='"Liberation Sans", sans-serif' font-size="15.7" fill="#1a1a1a" text-anchor="middle">-0.1</text>
<line x1="337.30" y1="667.60" x2="337.30" y2="673.40" stroke="#222" stroke-width="1.0"/>
<line x1="337.30" y1="358.70" x2="337.30" y2="364.50" stroke="#333" stroke-width="1.0"/>
<line x1="354.88" y1="667.60" x2="354.88" y2="670.60" stroke="#222" stroke-width="1.0"/>
<line x1="354.88" y1="358.70" x2="354.88" y2="361.70" stroke="#333" stroke-width="1.0"/>
<line x1="365.16" y1="667.60" x2="365.16" y2="670.60" stroke="#222" stroke-width="1.0"/>
<line x1="365.16" y1="358.70" x2="365.16" y2="361.70" stroke="#333" stroke-width="1.0"/>
<line x1="372.46" y1="667.60" x2="372.46" y2="670.60" stroke="#222" stroke-width="1.0"/>
<line x1="372.46" y1="358.70" x2="372.46" y2="361.70" stroke="#333" stroke-width="1.0"/>
<line x1="378.12" y1="667.60" x2="378.12" y2="670.60" stroke="#222" stroke-width="1.0"/>
<line x1="378.12" y1="358.70" x2="378.12" y2="361.70" stroke="#333" stroke-width="1.0"/>
<line x1="382.74" y1="667.60" x2="382.74" y2="670.60" stroke="#222" stroke-width="1.0"/>
<line x1="382.74" y1="358.70" x2="382.74" y2="361.70" stroke="#333" stroke-width="1.0"/>
<line x1="386.65" y1="667.60" x2="386.65" y2="670.60" stroke="#222" stroke-width="1.0"/>
<line x1="386.65" y1="358.70" x2="386.65" y2="361.70" stroke="#333" stroke-width="1.0"/>
<line x1="390.04" y1="667.60" x2="390.04" y2="670.60" stroke="#222" stroke-width="1.0"/>
<line x1="390.04" y1="358.70" x2="390.04" y2="361.70" stroke="#333" stroke-width="1.0"/>
<line x1="393.03" y1="667.60" x2="393.03" y2="670.60" stroke="#222" stroke-width="1.0"/>
<line x1="393.03" y1="358.70" x2="393.03" y2="361.70" stroke="#333" stroke-width="1.0"/>
<line x1="395.70" y1="667.60" x2="395.70" y2="673.40" stroke="#222" stroke-width="1.0"/>
<line x1="395.70" y1="358.70" x2="395.70" y2="364.50" stroke="#333" stroke-width="1.0"/>
<line x1="413.28" y1="667.60" x2="413.28" y2="670.60" stroke="#222" stroke-width="1.0"/>
<line x1="413.28" y1="358.70" x2="413.28" y2="361.70" stroke="#333" stroke-width="1.0"/>
<line x1="423.56" y1="667.60" x2="423.56" y2="670.60" stroke="#222" stroke-width="1.0"/>
<line x1="423.56" y1="358.70" x2="423.56" y2="361.70" stroke="#333" stroke-width="1.0"/>
<line x1="430.86" y1="667.60" x2="430.86" y2="670.60" stroke="#222" stroke-width="1.0"/>
<line x1="430.86" y1="358.70" x2="430.86" y2="361.70" stroke="#333" stroke-width="1.0"/>
<line x1="436.52" y1="667.60" x2="436.52" y2="670.60" stroke="#222" stroke-width="1.0"/>
<line x1="436.52" y1="358.70" x2="436.52" y2="361.70" stroke="#333" stroke-width="1.0"/>
<line x1="441.14" y1="667.60" x2="441.14" y2="670.60" stroke="#222" stroke-width="1.0"/>
<line x1="441.14" y1="358.70" x2="441.14" y2="361.70" stroke="#333" stroke-width="1.0"/>
<line x1="445.05" y1="667.60" x2="445.05" y2="670.60" stroke="#222" stroke-width="1.0"/>
<line x1="445.05" y1="358.70" x2="445.05" y2="361.70" stroke="#333" stroke-width="1.0"/>
<line x1="448.44" y1="667.60" x2="448.44" y2="670.60" stroke="#222" stroke-width="1.0"/>
<line x1="448.44" y1="358.70" x2="448.44" y2="361.70" stroke="#333" stroke-width="1.0"/>
<line x1="451.43" y1="667.60" x2="451.43" y2="670.60" stroke="#222" stroke-width="1.0"/>
<line x1="451.43" y1="358.70" x2="451.43" y2="361.70" stroke="#333" stroke-width="1.0"/>
<line x1="454.10" y1="667.60" x2="454.10" y2="673.40" stroke="#222" stroke-width="1.0"/>
<line x1="454.10" y1="358.70" x2="454.10" y2="364.50" stroke="#333" stroke-width="1.0"/>
<text x="337.30" y="690.60" font-family='"Liberation Sans", sans-serif' font-size="15.7" fill="#1a1a1a" text-anchor="middle">1E-3</text>
<text x="395.70" y="690.60" font-family='"Liberation Sans", sans-serif' font-size="15.7" fill="#1a1a1a" text-anchor="middle">1E-2</text>
<text x="454.10" y="690.60" font-family='"Liberation Sans", sans-serif' font-size="15.7" fill="#1a1a1a" text-anchor="middle">1E-1</text>
<line x1="56.90" y1="652.90" x2="62.90" y2="652.90" stroke="#222" stroke-width="1.1"/>
<line x1="457.90" y1="652.90" x2="463.90" y2="652.90" stroke="#333" stroke-width="1.1"/>
<line x1="56.90" y1="498.30" x2="62.90" y2="498.30" stroke="#222" stroke-width="1.1"/>
<line x1="457.90" y1="498.30" x2="463.90" y2="498.30" stroke="#333" stroke-width="1.1"/>
<line x1="56.90" y1="451.76" x2="62.90" y2="451.76" stroke="#222" stroke-width="1.1"/>
<line x1="457.90" y1="451.76" x2="463.90" y2="451.76" stroke="#333" stroke-width="1.1"/>
<line x1="56.90" y1="405.22" x2="62.90" y2="405.22" stroke="#222" stroke-width="1.1"/>
<line x1="457.90" y1="405.22" x2="463.90" y2="405.22" stroke="#333" stroke-width="1.1"/>
<line x1="56.90" y1="358.68" x2="62.90" y2="358.68" stroke="#222" stroke-width="1.1"/>
<line x1="457.90" y1="358.68" x2="463.90" y2="358.68" stroke="#333" stroke-width="1.1"/>
<line x1="60.20" y1="606.36" x2="62.90" y2="606.36" stroke="#222" stroke-width="1.0"/>
<line x1="461.20" y1="606.36" x2="463.90" y2="606.36" stroke="#333" stroke-width="1.0"/>
<line x1="60.20" y1="579.14" x2="62.90" y2="579.14" stroke="#222" stroke-width="1.0"/>
<line x1="461.20" y1="579.14" x2="463.90" y2="579.14" stroke="#333" stroke-width="1.0"/>
<line x1="60.20" y1="559.82" x2="62.90" y2="559.82" stroke="#222" stroke-width="1.0"/>
<line x1="461.20" y1="559.82" x2="463.90" y2="559.82" stroke="#333" stroke-width="1.0"/>
<line x1="60.20" y1="544.84" x2="62.90" y2="544.84" stroke="#222" stroke-width="1.0"/>
<line x1="461.20" y1="544.84" x2="463.90" y2="544.84" stroke="#333" stroke-width="1.0"/>
<line x1="60.20" y1="532.60" x2="62.90" y2="532.60" stroke="#222" stroke-width="1.0"/>
<line x1="461.20" y1="532.60" x2="463.90" y2="532.60" stroke="#333" stroke-width="1.0"/>
<line x1="60.20" y1="522.25" x2="62.90" y2="522.25" stroke="#222" stroke-width="1.0"/>
<line x1="461.20" y1="522.25" x2="463.90" y2="522.25" stroke="#333" stroke-width="1.0"/>
<line x1="60.20" y1="513.28" x2="62.90" y2="513.28" stroke="#222" stroke-width="1.0"/>
<line x1="461.20" y1="513.28" x2="463.90" y2="513.28" stroke="#333" stroke-width="1.0"/>
<line x1="60.20" y1="505.37" x2="62.90" y2="505.37" stroke="#222" stroke-width="1.0"/>
<line x1="461.20" y1="505.37" x2="463.90" y2="505.37" stroke="#333" stroke-width="1.0"/>
<line x1="60.20" y1="491.23" x2="62.90" y2="491.23" stroke="#222" stroke-width="1.0"/>
<line x1="461.20" y1="491.23" x2="463.90" y2="491.23" stroke="#333" stroke-width="1.0"/>
<line x1="60.20" y1="484.83" x2="62.90" y2="484.83" stroke="#222" stroke-width="1.0"/>
<line x1="461.20" y1="484.83" x2="463.90" y2="484.83" stroke="#333" stroke-width="1.0"/>
<line x1="60.20" y1="478.98" x2="62.90" y2="478.98" stroke="#222" stroke-width="1.0"/>
<line x1="461.20" y1="478.98" x2="463.90" y2="478.98" stroke="#333" stroke-width="1.0"/>
<line x1="60.20" y1="473.61" x2="62.90" y2="473.61" stroke="#222" stroke-width="1.0"/>
<line x1="461.20" y1="473.61" x2="463.90" y2="473.61" stroke="#333" stroke-width="1.0"/>
<line x1="60.20" y1="468.63" x2="62.90" y2="468.63" stroke="#222" stroke-width="1.0"/>
<line x1="461.20" y1="468.63" x2="463.90" y2="468.63" stroke="#333" stroke-width="1.0"/>
<line x1="60.20" y1="464.00" x2="62.90" y2="464.00" stroke="#222" stroke-width="1.0"/>
<line x1="461.20" y1="464.00" x2="463.90" y2="464.00" stroke="#333" stroke-width="1.0"/>
<line x1="60.20" y1="459.67" x2="62.90" y2="459.67" stroke="#222" stroke-width="1.0"/>
<line x1="461.20" y1="459.67" x2="463.90" y2="459.67" stroke="#333" stroke-width="1.0"/>
<line x1="60.20" y1="455.60" x2="62.90" y2="455.60" stroke="#222" stroke-width="1.0"/>
<line x1="461.20" y1="455.60" x2="463.90" y2="455.60" stroke="#333" stroke-width="1.0"/>
<line x1="60.20" y1="444.69" x2="62.90" y2="444.69" stroke="#222" stroke-width="1.0"/>
<line x1="461.20" y1="444.69" x2="463.90" y2="444.69" stroke="#333" stroke-width="1.0"/>
<line x1="60.20" y1="438.29" x2="62.90" y2="438.29" stroke="#222" stroke-width="1.0"/>
<line x1="461.20" y1="438.29" x2="463.90" y2="438.29" stroke="#333" stroke-width="1.0"/>
<line x1="60.20" y1="432.45" x2="62.90" y2="432.45" stroke="#222" stroke-width="1.0"/>
<line x1="461.20" y1="432.45" x2="463.90" y2="432.45" stroke="#333" stroke-width="1.0"/>
<line x1="60.20" y1="427.07" x2="62.90" y2="427.07" stroke="#222" stroke-width="1.0"/>
<line x1="461.20" y1="427.07" x2="463.90" y2="427.07" stroke="#333" stroke-width="1.0"/>
<line x1="60.20" y1="422.10" x2="62.90" y2="422.10" stroke="#222" stroke-width="1.0"/>
<line x1="461.20" y1="422.10" x2="463.90" y2="422.10" stroke="#333" stroke-width="1.0"/>
<line x1="60.20" y1="417.46" x2="62.90" y2="417.46" stroke="#222" stroke-width="1.0"/>
<line x1="461.20" y1="417.46" x2="463.90" y2="417.46" stroke="#333" stroke-width="1.0"/>
<line x1="60.20" y1="413.13" x2="62.90" y2="413.13" stroke="#222" stroke-width="1.0"/>
<line x1="461.20" y1="413.13" x2="463.90" y2="413.13" stroke="#333" stroke-width="1.0"/>
<line x1="60.20" y1="409.06" x2="62.90" y2="409.06" stroke="#222" stroke-width="1.0"/>
<line x1="461.20" y1="409.06" x2="463.90" y2="409.06" stroke="#333" stroke-width="1.0"/>
<line x1="60.20" y1="398.15" x2="62.90" y2="398.15" stroke="#222" stroke-width="1.0"/>
<line x1="461.20" y1="398.15" x2="463.90" y2="398.15" stroke="#333" stroke-width="1.0"/>
<line x1="60.20" y1="391.75" x2="62.90" y2="391.75" stroke="#222" stroke-width="1.0"/>
<line x1="461.20" y1="391.75" x2="463.90" y2="391.75" stroke="#333" stroke-width="1.0"/>
<line x1="60.20" y1="385.91" x2="62.90" y2="385.91" stroke="#222" stroke-width="1.0"/>
<line x1="461.20" y1="385.91" x2="463.90" y2="385.91" stroke="#333" stroke-width="1.0"/>
<line x1="60.20" y1="380.53" x2="62.90" y2="380.53" stroke="#222" stroke-width="1.0"/>
<line x1="461.20" y1="380.53" x2="463.90" y2="380.53" stroke="#333" stroke-width="1.0"/>
<line x1="60.20" y1="375.56" x2="62.90" y2="375.56" stroke="#222" stroke-width="1.0"/>
<line x1="461.20" y1="375.56" x2="463.90" y2="375.56" stroke="#333" stroke-width="1.0"/>
<line x1="60.20" y1="370.92" x2="62.90" y2="370.92" stroke="#222" stroke-width="1.0"/>
<line x1="461.20" y1="370.92" x2="463.90" y2="370.92" stroke="#333" stroke-width="1.0"/>
<line x1="60.20" y1="366.59" x2="62.90" y2="366.59" stroke="#222" stroke-width="1.0"/>
<line x1="461.20" y1="366.59" x2="463.90" y2="366.59" stroke="#333" stroke-width="1.0"/>
<line x1="60.20" y1="362.52" x2="62.90" y2="362.52" stroke="#222" stroke-width="1.0"/>
<line x1="461.20" y1="362.52" x2="463.90" y2="362.52" stroke="#333" stroke-width="1.0"/>
<text x="51.80" y="363.48" font-family='"Liberation Sans", sans-serif' font-size="15.5" fill="#1a1a1a" text-anchor="end">800</text>
<text x="51.80" y="410.02" font-family='"Liberation Sans", sans-serif' font-size="15.5" fill="#1a1a1a" text-anchor="end">400</text>
<text x="51.80" y="456.56" font-family='"Liberation Sans", sans-serif' font-size="15.5" fill="#1a1a1a" text-anchor="end">200</text>
<text x="51.80" y="503.10" font-family='"Liberation Sans", sans-serif' font-size="15.5" fill="#1a1a1a" text-anchor="end">100</text>
<text x="51.80" y="657.70" font-family='"Liberation Sans", sans-serif' font-size="15.5" fill="#1a1a1a" text-anchor="end">10</text>
<text x="16.60" y="515.40" font-family='"Liberation Sans", sans-serif' font-size="15.8" fill="#1a1a1a" text-anchor="middle" textLength="255.60" lengthAdjust="spacingAndGlyphs" transform="rotate(-90 16.60 515.40)">Contributions to yield strength / MPa</text>
<text x="246.50" y="706.90" font-family='"Liberation Sans", sans-serif' font-size="15.5" fill="#1a1a1a" text-anchor="middle" textLength="189.50" lengthAdjust="spacingAndGlyphs">Contributions to elongation</text>
<text x="78.00" y="620.00" font-family='"Liberation Sans", sans-serif' font-size="13.7" fill="#111" font-style="italic" textLength="50.00" lengthAdjust="spacingAndGlyphs">Improve</text>
<text x="78.00" y="636.10" font-family='"Liberation Sans", sans-serif' font-size="13.7" fill="#111" font-style="italic" textLength="49.50" lengthAdjust="spacingAndGlyphs">strength</text>
<line x1="102.00" y1="667.00" x2="102.00" y2="648.50" stroke="#111" stroke-width="1.4" stroke-dasharray="1.3,1.1"/>
<path d="M102.0,641.6 L98.1,649.3 L102.0,647.6 L105.9,649.3 Z" fill="#111"/>
<text x="194.30" y="643.60" font-family='"Liberation Sans", sans-serif' font-size="13.7" fill="#111" font-style="italic" textLength="115.40" lengthAdjust="spacingAndGlyphs">Reduce elongation</text>
<text x="189.80" y="659.00" font-family='"Liberation Sans", sans-serif' font-size="12.3" fill="#111" textLength="123.60" lengthAdjust="spacingAndGlyphs">(in as-cast polycrystals)</text>
<text x="345.00" y="642.70" font-family='"Liberation Sans", sans-serif' font-size="13.7" fill="#111" font-style="italic" textLength="117.20" lengthAdjust="spacingAndGlyphs">Improve elongation</text>
<text x="371.70" y="659.30" font-family='"Liberation Sans", sans-serif' font-size="12.3" fill="#111" textLength="62.80" lengthAdjust="spacingAndGlyphs">(in AM SXs)</text>
<line x1="320.50" y1="652.80" x2="355.00" y2="652.80" stroke="#111" stroke-width="1.4" stroke-dasharray="1.3,1.1"/>
<path d="M316.4,652.8 L324.0,648.9 L322.3,652.8 L324.0,656.7 Z" fill="#111"/>
<path d="M358.9,652.8 L351.3,648.9 L353.0,652.8 L351.3,656.7 Z" fill="#111"/>
<path d="M474.50,371.50L484.50,381.00M484.50,371.50L474.50,381.00" stroke="#111" stroke-width="1.20" fill="none"/>
<circle cx="479.50" cy="372.10" r="1.12" fill="#111"/>
<circle cx="479.50" cy="380.40" r="1.12" fill="#111"/>
<circle cx="475.10" cy="376.30" r="1.12" fill="#111"/>
<circle cx="483.70" cy="376.30" r="1.12" fill="#111"/>
<text x="489.60" y="381.10" font-family='"Liberation Sans", sans-serif' font-size="13.0" fill="#111" textLength="81.60" lengthAdjust="spacingAndGlyphs">with slip band;</text>
<text x="578.00" y="381.10" font-family='"Liberation Sans", sans-serif' font-size="13.0" fill="#111"># without slip band</text>
<polygon points="574.60,426.10 585.40,443.90 563.80,443.90" fill="#ff0000" stroke="none" stroke-width="1" stroke-linejoin="miter"/>
<text x="578.80" y="462.90" font-family='"Liberation Sans", sans-serif' font-size="12.9" fill="#ff1a1a" text-anchor="middle" textLength="157.20" lengthAdjust="spacingAndGlyphs">Produced by severe torsion</text>
<text x="578.80" y="479.80" font-family='"Liberation Sans", sans-serif' font-size="12.9" fill="#ff1a1a" text-anchor="middle" textLength="196.40" lengthAdjust="spacingAndGlyphs">deformation, SMAT, shot peening,</text>
<text x="578.80" y="496.70" font-family='"Liberation Sans", sans-serif' font-size="12.9" fill="#ff1a1a" text-anchor="middle" textLength="97.20" lengthAdjust="spacingAndGlyphs">LSP (Ref. 40-43)</text>
<circle cx="573.70" cy="548.40" r="10.3" fill="#0a7bff" stroke="none" stroke-width="1"/>
<text x="574.60" y="574.50" font-family='"Liberation Sans", sans-serif' font-size="12.9" fill="#1a80f0" text-anchor="middle">Produced by LSP (Ref. 44)</text>
<rect x="565.9" y="622.4" width="15.0" height="15.0" fill="#fff" stroke="#808080" stroke-width="2.9"/>
<text x="576.50" y="655.40" font-family='"Liberation Sans", sans-serif' font-size="12.9" fill="#858585" text-anchor="middle">Produced by shear flow</text>
<text x="576.50" y="672.50" font-family='"Liberation Sans", sans-serif' font-size="12.9" fill="#858585" text-anchor="middle">casting (Ref. 45)</text></svg></body></html>
